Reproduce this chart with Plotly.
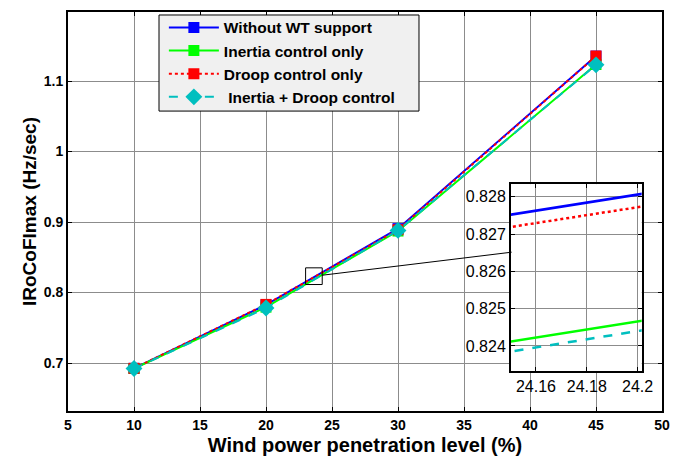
import plotly.graph_objects as go

# ---- data ----
penetration = [10, 20, 30, 45]
without_wt = [0.6925, 0.7827, 0.8907, 1.1355]
inertia_only = [0.6923, 0.7793, 0.8873, 1.1235]
droop_only = [0.6925, 0.7832, 0.8892, 1.1355]
inertia_droop = [0.6922, 0.7782, 0.8882, 1.1230]

series_names = ["Without WT support", "Inertia control only", "Droop control only", " Inertia + Droop control"]
x_ticks = [5, 10, 15, 20, 25, 30, 35, 40, 45, 50]
y_ticks = [0.7, 0.8, 0.9, 1.0, 1.1]
y_ticktext = ["0.7", "0.8", "0.9", "1", "1.1"]
inset_x_ticks = [24.16, 24.18, 24.2]
inset_x_text = ["24.16", "24.18", "24.2"]
inset_y_ticks = [0.824, 0.825, 0.826, 0.827, 0.828]
inset_y_text = ["0.824", "0.825", "0.826", "0.827", "0.828"]

# zoom box on main chart (data coords) and inset ranges
zoom_box_x = [23.0, 24.26]
zoom_box_y = [0.8114, 0.8351]
connector_x = [24.26, 38.61]
connector_y = [0.8246, 0.8573]
inset_xrange = [24.1502, 24.2016]
inset_yrange = [0.82333, 0.82834]

FONT = "Liberation Sans, Arial, Helvetica, sans-serif"
styles = [
    dict(color="#0000ff", dash="solid", symbol="square"),
    dict(color="#00ff00", dash="solid", symbol="square"),
    dict(color="#ff0000", dash="dot", symbol="square"),
    dict(color="#00bfbf", dash="dash", symbol="diamond"),
]
values = [without_wt, inertia_only, droop_only, inertia_droop]

fig = go.Figure()
for name, vals, st in zip(series_names, values, styles):
    fig.add_trace(go.Scatter(
        x=penetration, y=vals, name=name, mode="lines+markers",
        line=dict(color=st["color"], dash=st["dash"], width=2),
        marker=dict(symbol=st["symbol"], color=st["color"], size=11 if st["symbol"] == "square" else 13,
                    line=dict(width=0)),
        xaxis="x", yaxis="y"))
for name, vals, st in zip(series_names, values, styles):
    fig.add_trace(go.Scatter(
        x=penetration, y=vals, name=name, mode="lines", showlegend=False,
        line=dict(color=st["color"], dash=st["dash"], width=2.5, simplify=False),
        xaxis="x2", yaxis="y2"))

W, H = 688, 456
L, R, T, B = 68, 26, 12, 45

fig.update_layout(
    width=W, height=H, margin=dict(l=L, r=R, t=T, b=B, autoexpand=False),
    paper_bgcolor="white", plot_bgcolor="white",
    font=dict(family=FONT, color="black"),
    xaxis=dict(domain=[0, 1], range=[5, 50], tickvals=x_ticks,
               showgrid=True, gridcolor="#8c8c8c", gridwidth=1,
               showline=True, linecolor="black", linewidth=2, mirror="ticks",
               ticks="inside", ticklen=4, tickcolor="black", zeroline=False,
               automargin=False,
               tickfont=dict(size=14, family=FONT, weight="bold"),
               title=dict(text="<b>Wind power penetration level (%)</b>", font=dict(size=20), standoff=7)),
    yaxis=dict(domain=[0, 1], range=[0.632, 1.198], tickvals=y_ticks, ticktext=y_ticktext,
               showgrid=True, gridcolor="#8c8c8c", gridwidth=1,
               showline=True, linecolor="black", linewidth=2, mirror="ticks",
               ticks="inside", ticklen=4, tickcolor="black", zeroline=False,
               automargin=False,
               tickfont=dict(size=14, family=FONT, weight="bold"),
               title=dict(text="<b>IRoCoFImax (Hz/sec)</b>", font=dict(size=19), standoff=2)),
    xaxis2=dict(domain=[0.7458, 0.9658], anchor="y2", range=inset_xrange,
                tickvals=inset_x_ticks, ticktext=inset_x_text,
                showgrid=True, gridcolor="#8c8c8c", gridwidth=1,
                showline=True, linecolor="black", linewidth=2, mirror="ticks",
                ticks="inside", ticklen=4, tickcolor="black", zeroline=False,
                automargin=False,
                tickfont=dict(size=16, family=FONT)),
    yaxis2=dict(domain=[0.1003, 0.5686], anchor="x2", range=inset_yrange,
                tickvals=inset_y_ticks, ticktext=inset_y_text,
                showgrid=True, gridcolor="#8c8c8c", gridwidth=1,
                showline=True, linecolor="black", linewidth=2, mirror="ticks",
                ticks="inside", ticklen=4, tickcolor="black", zeroline=False,
                automargin=False,
                tickfont=dict(size=16, family=FONT)),
    legend=dict(x=0.1614, y=1.003, xanchor="left", yanchor="top",
                bgcolor="rgba(0,0,0,0)", borderwidth=0,
                font=dict(size=15.5, family=FONT, weight="bold"),
                itemwidth=50, tracegroupgap=0),
    shapes=[
        dict(type="rect", xref="paper", yref="paper", x0=0.1532, x1=0.5909, y0=0.7517, y1=0.9925,
             fillcolor="#f0f0f0", line=dict(color="black", width=1), layer="above"),
        dict(type="rect", xref="x", yref="y", x0=zoom_box_x[0], x1=zoom_box_x[1],
             y0=zoom_box_y[0], y1=zoom_box_y[1], line=dict(color="black", width=1), layer="above"),
        dict(type="line", xref="x", yref="y", x0=connector_x[0], x1=connector_x[1],
             y0=connector_y[0], y1=connector_y[1], line=dict(color="black", width=1), layer="above"),
    ],
)

fig.write_html("out.html")
